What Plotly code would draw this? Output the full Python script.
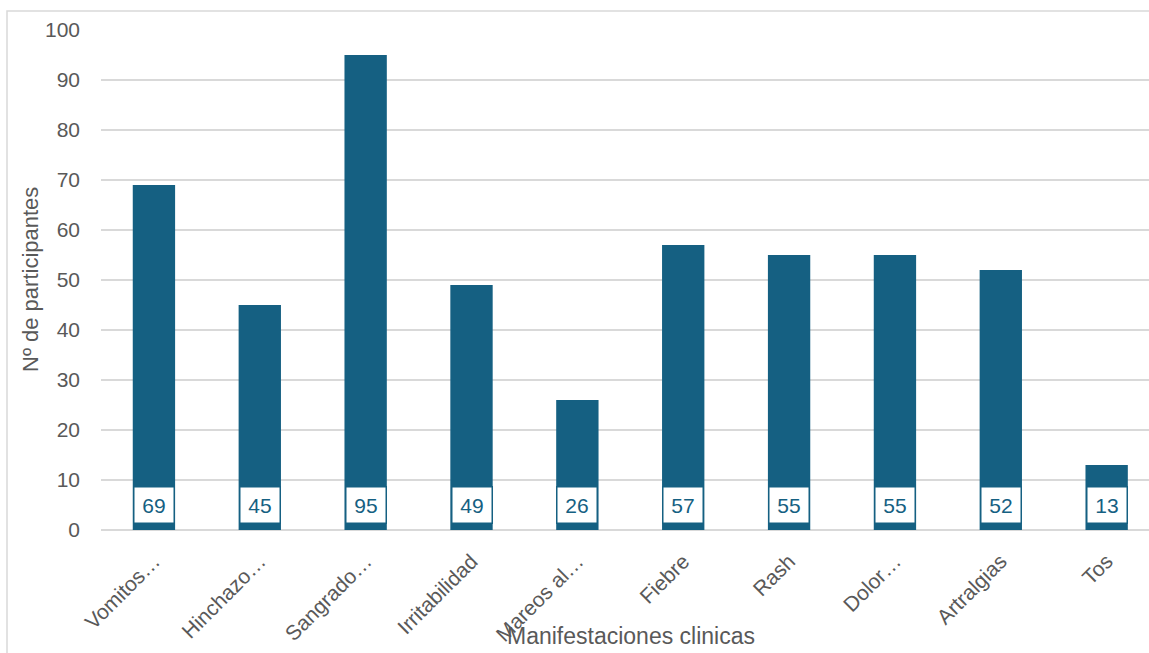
import plotly.graph_objects as go

categories = ["Vomitos…", "Hinchazo…", "Sangrado…", "Irritabilidad", "Mareos al…",
              "Fiebre", "Rash", "Dolor…", "Artralgias", "Tos"]
participants = [69, 45, 95, 49, 26, 57, 55, 55, 52, 13]
y_ticks = list(range(0, 101, 10))

BAR = "#156082"
GRID = "#d9d9d9"
TXT = "#595959"
FONT = "Liberation Sans, Arial, sans-serif"

W, H = 1149, 653
L, R, T, B = 101, 0, 30, 123
pw, ph = W - L - R, H - T - B


def px_x(v):
    return (v - L) / pw


def px_y(v):
    return (H - B - v) / ph


fig = go.Figure()
fig.add_trace(go.Bar(
    x=categories, y=participants, marker=dict(color=BAR, line=dict(width=0)),
    width=0.4, hoverinfo="x+y",
))

# value labels boxed at the base of each bar
for cat, val in zip(categories, participants):
    fig.add_annotation(
        x=cat, y=5, xref="x", yref="y", text=str(val), showarrow=False,
        font=dict(family=FONT, size=21, color=BAR),
        bgcolor="white", bordercolor=BAR, borderwidth=1.5, borderpad=0,
        width=39, height=35, xanchor="center", yanchor="middle",
    )

# axis titles
fig.add_annotation(
    x=px_x(631), y=px_y(636), xref="paper", yref="paper",
    xanchor="center", yanchor="middle", text="Manifestaciones clinicas",
    showarrow=False, font=dict(family=FONT, size=23, color=TXT),
)
fig.add_annotation(
    x=px_x(30), y=px_y(280), xref="paper", yref="paper",
    xanchor="center", yanchor="middle", text="Nº de participantes",
    textangle=-90, showarrow=False, font=dict(family=FONT, size=22, color=TXT),
)

# outer chart frame
fig.add_shape(
    type="rect", xref="paper", yref="paper",
    x0=px_x(7), x1=px_x(W + 20), y0=px_y(H + 20), y1=px_y(11),
    line=dict(color=GRID, width=1.5), fillcolor="rgba(0,0,0,0)", layer="below",
)

fig.update_layout(
    width=W, height=H,
    margin=dict(l=L, r=R, t=T, b=B, pad=0),
    paper_bgcolor="white", plot_bgcolor="white",
    showlegend=False, bargap=0.6,
    font=dict(family=FONT, color=TXT),
    xaxis=dict(
        type="category", range=[-0.5, 9.4], tickangle=-45,
        tickfont=dict(family=FONT, size=21, color=TXT),
        showgrid=False, showline=False, ticks="", zeroline=False,
        ticklabelstandoff=14,
    ),
    yaxis=dict(
        range=[0, 100], tickvals=y_ticks,
        tickfont=dict(family=FONT, size=21, color=TXT),
        showgrid=True, gridcolor=GRID, gridwidth=1.5,
        zeroline=True, zerolinecolor=GRID, zerolinewidth=1.5,
        showline=False, ticks="", ticklabelstandoff=20,
    ),
)

fig.write_html("out.html")
